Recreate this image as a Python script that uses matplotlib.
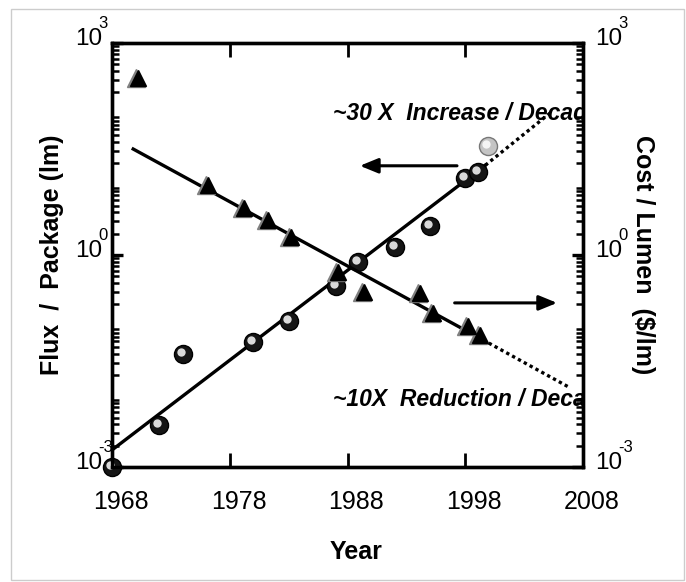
import numpy as np
import matplotlib.pyplot as plt
import matplotlib.transforms as mtransforms
from matplotlib.patches import Rectangle

plt.rcParams['font.family'] = ['Liberation Sans', 'DejaVu Sans']

# flux per package (lm), spheres
flux_years = [1968, 1972, 1974, 1980, 1983, 1987, 1988.9, 1992, 1995, 1998, 1999.1]
flux_vals = [0.001, 0.0039, 0.04, 0.059, 0.116, 0.37, 0.8, 1.3, 2.6, 12.3, 15]
flux_new_year = [1999.9]
flux_new_val = [35]

# cost per lumen ($/lm), triangles
cost_years = [1970, 1976, 1979, 1981.1, 1983, 1987, 1989.2, 1994, 1995.1, 1998.05, 1999.1]
cost_vals = [316, 9.8, 4.6, 3.1, 1.8, 0.57, 0.3, 0.29, 0.15, 0.10, 0.074]

# trend lines (solid fit + dotted extrapolation)
flux_fit_years = [1968, 1999.7]
flux_fit_vals = [0.00174, 18.6]
flux_ext_years = [1999.7, 2005.3]
flux_ext_vals = [18.6, 105]
cost_fit_years = [1969.8, 1999.5]
cost_fit_vals = [31.6, 0.063]
cost_ext_years = [1999.5, 2006.8]
cost_ext_vals = [0.063, 0.0135]

xticks = [1968, 1978, 1988, 1998, 2008]
yticks = [1e-3, 1e0, 1e3]
yexp = ['-3', '0', '3']

fig = plt.figure(figsize=(6.86, 5.82), dpi=100)
fig.patches.append(Rectangle((11 / 686, 0.003), 673 / 686, 1 - 9 / 582 - 0.003,
                             transform=fig.transFigure, fill=False,
                             edgecolor='#cccccc', linewidth=1))
ax = fig.add_axes([112 / 686, 1 - 467 / 582, 471 / 686, 424 / 582])
ax2 = ax.twinx()

for a in (ax, ax2):
    a.set_yscale('log')
    a.set_ylim(1e-3, 1e3)
    a.set_xlim(1968, 2008)
    for s in a.spines.values():
        s.set_linewidth(2.4)

# lines
ax.plot(flux_fit_years, flux_fit_vals, color='black', lw=2.4, zorder=2)
ax.plot(flux_ext_years, flux_ext_vals, color='black', lw=2.4, ls=(0, (1, 1)), zorder=2)
ax2.plot(cost_fit_years, cost_fit_vals, color='black', lw=2.4, zorder=2)
ax2.plot(cost_ext_years, cost_ext_vals, color='black', lw=2.4, ls=(0, (1, 1)), zorder=2)

# triangles: grey shading on the left, black on the right
shift_r = mtransforms.offset_copy(ax2.transData, fig=fig, x=2, y=0, units='dots')
ax2.plot(cost_years, cost_vals, ls='none', marker='^', ms=13, color='#808080',
         mec='#808080', zorder=3)
ax2.plot(cost_years, cost_vals, ls='none', marker='^', ms=12, color='black',
         mec='black', zorder=3, transform=shift_r)

# spheres
hl = mtransforms.offset_copy(ax.transData, fig=fig, x=-2, y=2, units='dots')
ax.plot(flux_years, flux_vals, ls='none', marker='o', ms=13, color='#151515',
        mec='black', mew=1, zorder=4, clip_on=False)
ax.plot(flux_years, flux_vals, ls='none', marker='o', ms=6, color='#f0f0f0',
        mec='none', alpha=0.9, zorder=5, transform=hl, clip_on=False)
ax.plot(flux_new_year, flux_new_val, ls='none', marker='o', ms=13, color='#c4c4c4',
        mec='#777777', mew=1, zorder=4)
ax.plot(flux_new_year, flux_new_val, ls='none', marker='o', ms=6, color='#f4f4f4',
        mec='none', zorder=5, transform=hl)

# arrows
ax.annotate('', xy=(1989.05, 18.3), xytext=(1997.3, 18.3),
            arrowprops=dict(arrowstyle='-|>,head_length=1.1,head_width=0.45',
                            color='black', lw=2.2, shrinkA=0, shrinkB=0))
ax.annotate('', xy=(2005.8, 0.21), xytext=(1997.1, 0.21),
            arrowprops=dict(arrowstyle='-|>,head_length=1.1,head_width=0.45',
                            color='black', lw=2.2, shrinkA=0, shrinkB=0))

ax.text(1986.8, 101, '~30 X  Increase / Decade', fontsize=16.5, fontweight='bold',
        fontstyle='italic', va='center', ha='left', clip_on=True)
ax.text(1986.8, 0.0089, '~10X  Reduction / Decade', fontsize=16.5, fontweight='bold',
        fontstyle='italic', va='center', ha='left', clip_on=True)

# ticks (labels drawn by hand below)
ax.set_xticks(xticks)
ax.set_xticklabels([])
ax.tick_params(axis='x', which='major', direction='in', length=10, width=2, top=True)
ax.set_yticks(yticks)
ax.set_yticklabels([])
ax2.set_yticks(yticks)
ax2.set_yticklabels([])
for a in (ax, ax2):
    a.tick_params(axis='y', which='major', direction='in', length=8, width=2.4)
    a.tick_params(axis='y', which='minor', direction='in', length=5, width=1.8)
    a.yaxis.set_minor_formatter(plt.NullFormatter())

xlab_tr = mtransforms.blended_transform_factory(ax.transData, ax.transAxes)
for x in xticks:
    ax.text(x, 0, str(x), transform=mtransforms.offset_copy(xlab_tr, fig=fig, x=9, y=-35, units='dots'),
            fontsize=18, ha='center', va='center', clip_on=False)

ylab_tr = mtransforms.blended_transform_factory(ax.transAxes, ax.transData)
for y, e in zip(yticks, yexp):
    ax.text(0, y, '10', transform=mtransforms.offset_copy(ylab_tr, fig=fig, x=-10, y=4, units='dots'),
            fontsize=17.5, ha='right', va='center', clip_on=False)
    ax.text(0, y, e, transform=mtransforms.offset_copy(ylab_tr, fig=fig, x=-14, y=20, units='dots'),
            fontsize=12, ha='left', va='center', clip_on=False)
    ax.text(1, y, '10', transform=mtransforms.offset_copy(ylab_tr, fig=fig, x=12, y=4, units='dots'),
            fontsize=17.5, ha='left', va='center', clip_on=False)
    ax.text(1, y, e, transform=mtransforms.offset_copy(ylab_tr, fig=fig, x=35, y=20, units='dots'),
            fontsize=12, ha='left', va='center', clip_on=False)

# axis titles
ax.text(0.518, -0.2, 'Year', transform=ax.transAxes, fontsize=18, fontweight='bold',
        ha='center', va='center')
ax.text(-0.128, 0.5, 'Flux  /  Package (lm)', transform=ax.transAxes, fontsize=18,
        fontweight='bold', rotation=90, ha='center', va='center')
ax.text(1.127, 0.5, 'Cost / Lumen  ($/lm)', transform=ax.transAxes, fontsize=18,
        fontweight='bold', rotation=-90, ha='center', va='center')

fig.savefig('out.png', dpi=100)
